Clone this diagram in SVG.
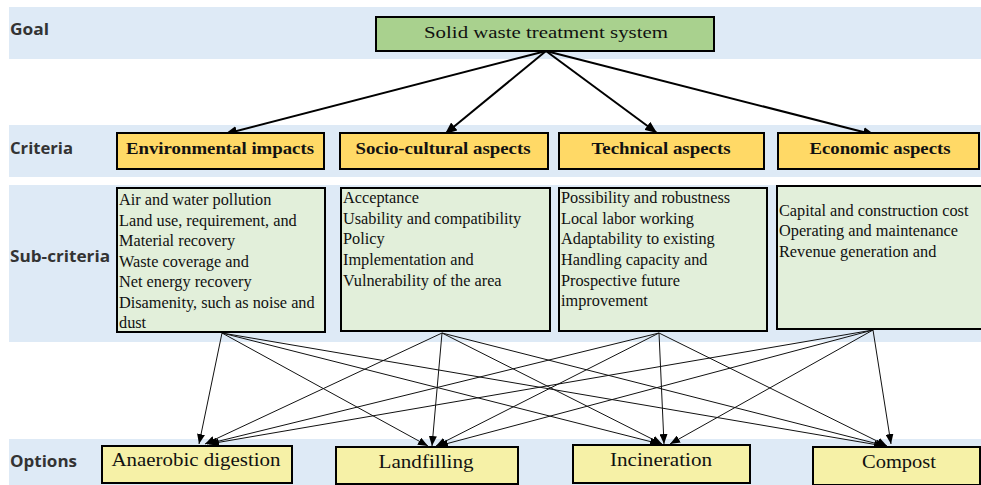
<svg xmlns="http://www.w3.org/2000/svg" width="981" height="485" viewBox="0 0 981 485">
<defs>
<style>
.band{fill:#deeaf6}
.lvl{font-family:"Open Sans","Noto Sans",sans-serif;font-weight:bold;font-size:16px;fill:#333}
.box{stroke:#000;stroke-width:2}
.goal{fill:#a9d18e}
.crit{fill:#ffd966}
.sub{fill:#e2efda}
.opt{fill:#f6f1a7}
.t{font-family:"Liberation Serif","Times New Roman",serif;fill:#111}
.ct{font-size:16.5px;font-weight:bold;text-anchor:middle}
.st{font-size:16.3px}
.ot{font-size:18px;text-anchor:middle}
.big{stroke:#000;stroke-width:2;fill:none}
.thin{stroke:#111;stroke-width:1;fill:none}
</style>
<marker id="ah" viewBox="0 0 12 10" refX="12" refY="5" markerWidth="12" markerHeight="10" markerUnits="userSpaceOnUse" orient="auto">
<path d="M0,0 L12,5 L0,10 z" fill="#000"/>
</marker>
<marker id="as" viewBox="0 0 10 8" refX="10" refY="4" markerWidth="10" markerHeight="8" markerUnits="userSpaceOnUse" orient="auto">
<path d="M0,0 L10,4 L0,8 z" fill="#000"/>
</marker>
</defs>
<rect width="981" height="485" fill="#fff"/>
<g id="bands">
<rect class="band" x="9" y="7" width="972" height="52"/>
<rect class="band" x="9" y="125" width="972" height="52"/>
<rect class="band" x="9" y="185" width="972" height="157"/>
<rect class="band" x="9" y="439" width="972" height="46"/>
<text class="lvl" x="10" y="35" textLength="39" lengthAdjust="spacingAndGlyphs">Goal</text>
<text class="lvl" x="10" y="154" textLength="63" lengthAdjust="spacingAndGlyphs">Criteria</text>
<text class="lvl" x="10" y="262" textLength="100" lengthAdjust="spacingAndGlyphs">Sub-criteria</text>
<text class="lvl" x="10" y="467" textLength="67" lengthAdjust="spacingAndGlyphs">Options</text>
</g>
<g id="connectors">
<line class="big" x1="546" y1="51" x2="225" y2="134" marker-end="url(#ah)"/>
<line class="big" x1="546" y1="51" x2="445" y2="134" marker-end="url(#ah)"/>
<line class="big" x1="546" y1="51" x2="657" y2="133" marker-end="url(#ah)"/>
<line class="big" x1="546" y1="51" x2="875" y2="135" marker-end="url(#ah)"/>
<line class="thin" x1="222" y1="333" x2="199" y2="444" marker-end="url(#as)"/>
<line class="thin" x1="442" y1="333" x2="205" y2="444" marker-end="url(#as)"/>
<line class="thin" x1="659" y1="333" x2="207" y2="444" marker-end="url(#as)"/>
<line class="thin" x1="873" y1="330" x2="209" y2="444" marker-end="url(#as)"/>
<line class="thin" x1="222" y1="333" x2="428" y2="446" marker-end="url(#as)"/>
<line class="thin" x1="442" y1="333" x2="432" y2="446" marker-end="url(#as)"/>
<line class="thin" x1="659" y1="333" x2="436" y2="446" marker-end="url(#as)"/>
<line class="thin" x1="873" y1="330" x2="438" y2="446" marker-end="url(#as)"/>
<line class="thin" x1="222" y1="333" x2="660" y2="444" marker-end="url(#as)"/>
<line class="thin" x1="442" y1="333" x2="662" y2="444" marker-end="url(#as)"/>
<line class="thin" x1="659" y1="333" x2="664" y2="444" marker-end="url(#as)"/>
<line class="thin" x1="873" y1="330" x2="670" y2="444" marker-end="url(#as)"/>
<line class="thin" x1="222" y1="333" x2="884" y2="446" marker-end="url(#as)"/>
<line class="thin" x1="442" y1="333" x2="886" y2="446" marker-end="url(#as)"/>
<line class="thin" x1="659" y1="333" x2="887" y2="446" marker-end="url(#as)"/>
<line class="thin" x1="873" y1="330" x2="891" y2="444" marker-end="url(#as)"/>
</g>
<g id="goal">
<rect class="box goal" x="376" y="17" width="338" height="34"/>
<text class="t" x="546" y="38" font-size="17.5" text-anchor="middle" textLength="244" lengthAdjust="spacingAndGlyphs">Solid waste treatment system</text>
</g>
<g id="crit-env">
<rect class="box crit" x="117" y="133" width="207" height="36"/>
<text class="t ct" x="220" y="154" textLength="188" lengthAdjust="spacingAndGlyphs">Environmental impacts</text>
</g>
<g id="crit-socio">
<rect class="box crit" x="340" y="133" width="208" height="36"/>
<text class="t ct" x="443" y="154" textLength="175" lengthAdjust="spacingAndGlyphs">Socio-cultural aspects</text>
</g>
<g id="crit-tech">
<rect class="box crit" x="559" y="133" width="205" height="36"/>
<text class="t ct" x="661" y="154" textLength="139" lengthAdjust="spacingAndGlyphs">Technical aspects</text>
</g>
<g id="crit-econ">
<rect class="box crit" x="778" y="133" width="201" height="36"/>
<text class="t ct" x="880" y="154" textLength="141" lengthAdjust="spacingAndGlyphs">Economic aspects</text>
</g>
<g id="sub-env">
<rect class="box sub" x="117" y="188" width="208" height="144"/>
<text class="t st" x="119" y="205">Air and water pollution</text>
<text class="t st" x="119" y="225.5">Land use, requirement, and</text>
<text class="t st" x="119" y="246">Material recovery</text>
<text class="t st" x="119" y="266.5">Waste coverage and</text>
<text class="t st" x="119" y="287">Net energy recovery</text>
<text class="t st" x="119" y="307.5">Disamenity, such as noise and</text>
<text class="t st" x="119" y="328">dust</text>
</g>
<g id="sub-socio">
<rect class="box sub" x="341" y="188" width="209" height="143"/>
<text class="t st" x="343" y="203">Acceptance</text>
<text class="t st" x="343" y="223.5">Usability and compatibility</text>
<text class="t st" x="343" y="244">Policy</text>
<text class="t st" x="343" y="265">Implementation and</text>
<text class="t st" x="343" y="286">Vulnerability of the area</text>
</g>
<g id="sub-tech">
<rect class="box sub" x="559" y="188" width="208" height="143"/>
<text class="t st" x="561" y="203">Possibility and robustness</text>
<text class="t st" x="561" y="223.5">Local labor working</text>
<text class="t st" x="561" y="244">Adaptability to existing</text>
<text class="t st" x="561" y="265">Handling capacity and</text>
<text class="t st" x="561" y="286">Prospective future</text>
<text class="t st" x="561" y="305.5">improvement</text>
</g>
<g id="sub-econ">
<rect class="box sub" x="777" y="186" width="205" height="143"/>
<text class="t st" x="779" y="216">Capital and construction cost</text>
<text class="t st" x="779" y="236">Operating and maintenance</text>
<text class="t st" x="779" y="256.5">Revenue generation and</text>
</g>
<g id="opt-ad">
<rect class="box opt" x="102" y="446" width="190" height="37"/>
<text class="t ot" x="196" y="466" textLength="169" lengthAdjust="spacingAndGlyphs">Anaerobic digestion</text>
</g>
<g id="opt-landfill">
<rect class="box opt" x="336" y="447" width="182" height="37"/>
<text class="t ot" x="426" y="468" textLength="95" lengthAdjust="spacingAndGlyphs">Landfilling</text>
</g>
<g id="opt-incin">
<rect class="box opt" x="573" y="445" width="177" height="38"/>
<text class="t ot" x="661" y="466" textLength="102" lengthAdjust="spacingAndGlyphs">Incineration</text>
</g>
<g id="opt-compost">
<rect class="box opt" x="813" y="447" width="167" height="38"/>
<text class="t ot" x="899" y="468" textLength="74" lengthAdjust="spacingAndGlyphs">Compost</text>
</g>
</svg>
